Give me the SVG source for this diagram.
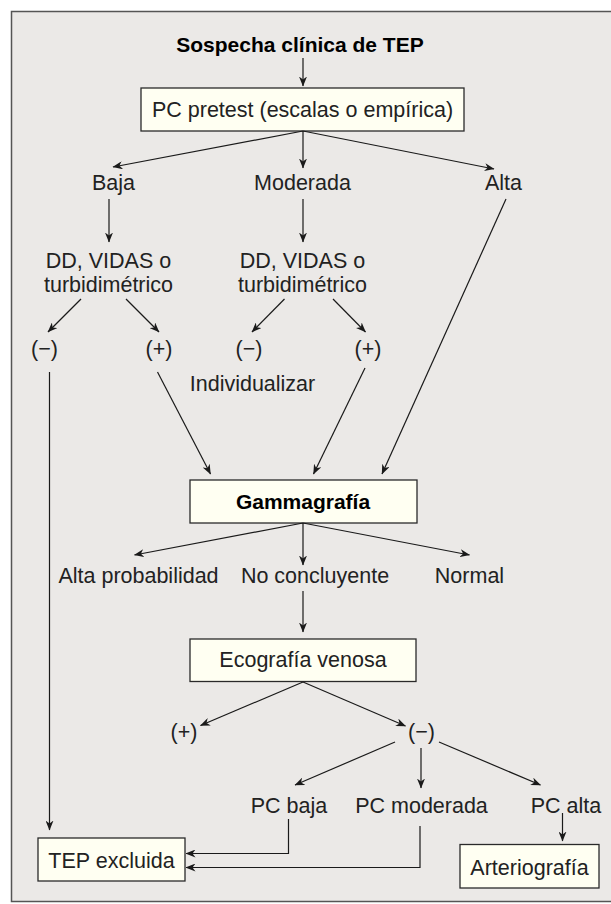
<svg xmlns="http://www.w3.org/2000/svg" width="611" height="904" viewBox="0 0 611 904">
<style>
.t{font-family:"Liberation Sans",Arial,sans-serif;font-size:21.5px;fill:#222;text-anchor:middle}
.b{font-family:"Liberation Sans",Arial,sans-serif;font-size:21px;font-weight:bold;fill:#000;text-anchor:middle}
.box{fill:#fffff2;stroke:#2a2a2a;stroke-width:1.3}
.c{fill:none;stroke:#1a1a1a;stroke-width:1.2}
.a{marker-end:url(#ah)}
</style>
<defs>
<marker id="ah" markerUnits="userSpaceOnUse" markerWidth="10" markerHeight="8" refX="9.5" refY="4" orient="auto" viewBox="0 0 10 8">
<path d="M0,0 L10,4 L0,8 L3,4 z" fill="#1a1a1a"/>
</marker>
</defs>
<rect x="0" y="0" width="611" height="904" fill="#fff"/>
<rect x="11.5" y="11.5" width="610" height="890" fill="#ebe9e7" stroke="#555" stroke-width="1.5"/>

<g id="title"><text class="b" x="300" y="52">Sospecha clínica de TEP</text></g>
<g id="pretest"><rect class="box" x="141" y="88" width="323" height="43"/><text class="t" x="302.5" y="117">PC pretest (escalas o empírica)</text></g>
<g id="baja"><text class="t" x="113.5" y="190">Baja</text></g>
<g id="moderada"><text class="t" x="302.5" y="190">Moderada</text></g>
<g id="alta"><text class="t" x="503.5" y="190">Alta</text></g>
<g id="dd1"><text class="t" x="108.5" y="268">DD, VIDAS o</text><text class="t" x="108.5" y="292">turbidimétrico</text></g>
<g id="dd2"><text class="t" x="302.5" y="268">DD, VIDAS o</text><text class="t" x="302.5" y="292">turbidimétrico</text></g>
<g id="neg1"><text class="t" x="44.5" y="356">(−)</text></g>
<g id="pos1"><text class="t" x="159" y="356">(+)</text></g>
<g id="neg2"><text class="t" x="249" y="356">(−)</text></g>
<g id="pos2"><text class="t" x="368" y="356">(+)</text></g>
<g id="individualizar"><text class="t" x="252.5" y="391">Individualizar</text></g>
<g id="gammagrafia"><rect class="box" x="190" y="480" width="227" height="43"/><text class="b" x="303" y="509">Gammagrafía</text></g>
<g id="altaprob"><text class="t" x="138.5" y="583">Alta probabilidad</text></g>
<g id="noconcl"><text class="t" x="315" y="583">No concluyente</text></g>
<g id="normal"><text class="t" x="469.5" y="583">Normal</text></g>
<g id="eco"><rect class="box" x="190" y="639" width="226" height="42.5"/><text class="t" x="303" y="667">Ecografía venosa</text></g>
<g id="pos3"><text class="t" x="184" y="739">(+)</text></g>
<g id="neg3"><text class="t" x="421.5" y="739">(−)</text></g>
<g id="pcbaja"><text class="t" x="289" y="813">PC baja</text></g>
<g id="pcmod"><text class="t" x="421.5" y="813">PC moderada</text></g>
<g id="pcalta"><text class="t" x="566" y="813">PC alta</text></g>
<g id="tepexcl"><rect class="box" x="38" y="838" width="147" height="43"/><text class="t" x="111.5" y="868">TEP excluida</text></g>
<g id="arterio"><rect class="box" x="460" y="844.5" width="139" height="43.5"/><text class="t" x="529.5" y="875">Arteriografía</text></g>

<g id="connectors">
<line class="c a" x1="303" y1="58" x2="303" y2="86"/>
<line class="c a" x1="303" y1="131" x2="113" y2="167"/>
<line class="c a" x1="303" y1="131" x2="303" y2="168"/>
<line class="c a" x1="303" y1="131" x2="494" y2="169"/>
<line class="c a" x1="109" y1="199" x2="109" y2="242"/>
<line class="c a" x1="303" y1="199" x2="303" y2="242"/>
<line class="c a" x1="81" y1="299" x2="48" y2="332"/>
<line class="c a" x1="126" y1="299" x2="159" y2="332"/>
<line class="c a" x1="284.5" y1="299" x2="252" y2="332"/>
<line class="c a" x1="333" y1="299" x2="365.5" y2="332"/>
<line class="c a" x1="49.5" y1="372" x2="49.5" y2="830"/>
<line class="c a" x1="157.5" y1="372" x2="210.5" y2="474"/>
<line class="c a" x1="365" y1="368" x2="313.5" y2="474"/>
<line class="c a" x1="506" y1="199" x2="382" y2="474"/>
<line class="c a" x1="303" y1="523" x2="134.5" y2="555"/>
<line class="c a" x1="303" y1="523" x2="303" y2="565"/>
<line class="c a" x1="303" y1="523" x2="469.5" y2="555"/>
<line class="c a" x1="303" y1="591" x2="303" y2="632"/>
<line class="c a" x1="303" y1="682" x2="200.5" y2="725.5"/>
<line class="c a" x1="303" y1="682" x2="405.5" y2="726"/>
<line class="c a" x1="395" y1="742" x2="295" y2="785"/>
<line class="c a" x1="421" y1="748" x2="421" y2="788"/>
<line class="c a" x1="439" y1="742" x2="540.5" y2="785"/>
<polyline class="c a" points="288.5,819 288.5,853.5 186,853.5"/>
<polyline class="c a" points="420,826 420,867.5 186,867.5"/>
<line class="c a" x1="562.5" y1="813" x2="562.5" y2="841"/>
</g>
</svg>
